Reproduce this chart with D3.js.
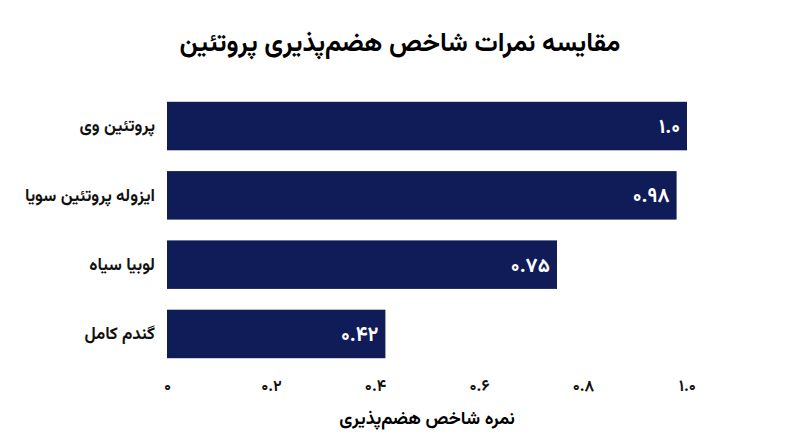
<!doctype html>
<html>
<head>
<meta charset="utf-8">
<title>chart</title>
<script src="https://d3js.org/d3.v7.min.js"></script>
<style>
body{margin:0;background:#fff;}
text{font-family:"Vazirmatn","Noto Sans Arabic","Noto Naskh Arabic","DejaVu Sans",sans-serif;}
</style>
</head>
<body>
<script>
var categories = ["پروتئین وی", "ایزوله پروتئین سویا", "لوبیا سیاه", "گندم کامل"];
var values = [1.0, 0.98, 0.75, 0.42];
var valueLabels = ["۱.۰", "۰.۹۸", "۰.۷۵", "۰.۴۲"];
var tickValues = [0, 0.2, 0.4, 0.6, 0.8, 1.0];
var tickLabels = ["۰", "۰.۲", "۰.۴", "۰.۶", "۰.۸", "۱.۰"];

var width = 800, height = 447;
var svg = d3.select("body").append("svg")
    .attr("width", width)
    .attr("height", height);

var x = d3.scaleLinear().domain([0, 1]).range([167, 687]);
var y = d3.scaleBand().domain(categories).range([81, 379]).padding(0.3);

// title
svg.append("text")
    .attr("x", 400).attr("y", 51)
    .attr("text-anchor", "middle")
    .attr("font-size", 26).attr("font-weight", "bold")
    .text("مقایسه نمرات شاخص هضم‌پذیری پروتئین");

// bars
svg.selectAll("rect.bar")
    .data(values)
    .enter().append("rect")
    .attr("class", "bar")
    .attr("x", x(0))
    .attr("y", function(d, i){ return y(categories[i]); })
    .attr("width", function(d){ return x(d) - x(0); })
    .attr("height", y.bandwidth())
    .attr("fill", "#101c57");

// value labels
svg.selectAll("text.val")
    .data(values)
    .enter().append("text")
    .attr("class", "val")
    .attr("x", function(d){ return x(d) - 7; })
    .attr("y", function(d, i){ return y(categories[i]) + y.bandwidth() / 2; })
    .attr("dy", "0.35em")
    .attr("text-anchor", "end")
    .attr("fill", "#fff")
    .attr("font-size", 20).attr("font-weight", "bold")
    .text(function(d, i){ return valueLabels[i]; });

// category labels
var yAxis = d3.axisLeft(y).tickSize(0).tickPadding(12);
var gy = svg.append("g").attr("transform", "translate(" + (x(0)) + ",0)").call(yAxis);
gy.select(".domain").remove();
gy.attr("font-family", null);
gy.selectAll("text")
    .attr("font-size", 17).attr("font-weight", "bold")
    .attr("fill", "#111");

// x axis
var xAxis = d3.axisBottom(x).tickValues(tickValues).tickSize(0).tickPadding(0)
    .tickFormat(function(d, i){ return tickLabels[i]; });
var gx = svg.append("g").attr("transform", "translate(0,378)").call(xAxis);
gx.select(".domain").remove();
gx.attr("font-family", null);
gx.selectAll("text")
    .attr("y", 13).attr("dy", 0)
    .attr("font-size", 16).attr("font-weight", "bold")
    .attr("fill", "#111");

svg.append("text")
    .attr("x", x(0.5)).attr("y", 424)
    .attr("text-anchor", "middle")
    .attr("font-size", 18).attr("font-weight", "bold")
    .text("نمره شاخص هضم‌پذیری");
</script>
</body>
</html>
